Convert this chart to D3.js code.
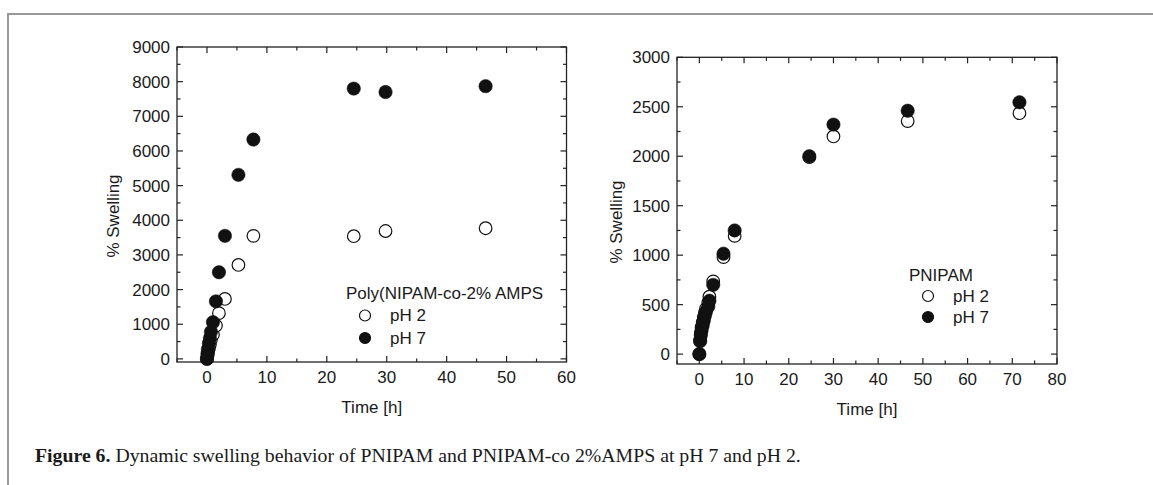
<!DOCTYPE html>
<html><head><meta charset="utf-8">
<script src="https://cdn.jsdelivr.net/npm/d3@7"></script>
<style>
body{margin:0;background:#fff;}
svg text{font-family:"Liberation Sans",Arial,sans-serif;fill:#1a1a1a;}
</style></head>
<body>
<svg id="c" width="1153" height="485"></svg>
<script>
// ---- Data ----
const timeA = [0, 0.08, 0.17, 0.33, 0.5, 0.67, 1, 1.5, 2, 3, 5.25, 7.75, 24.5, 29.8, 46.5];
const amps_pH2 = [0, 80, 170, 300, 420, 560, 700, 960, 1320, 1730, 2710, 3550, 3540, 3690, 3770];
const amps_pH7 = [0, 150, 280, 450, 600, 780, 1060, 1660, 2500, 3550, 5310, 6330, 7800, 7700, 7870];

const timeB = [0, 0.17, 0.33, 0.5, 0.75, 1.0, 1.25, 1.5, 2.0, 2.25, 3.1, 5.4, 7.9, 24.6, 30, 46.6, 71.6];
const pnipam_pH7 = [0, 130, 190, 240, 290, 340, 390, 430, 480, 540, 700, 1015, 1250, 2000, 2320, 2460, 2545];
const pnipam_pH2 = [0, 140, 210, 270, 320, 370, 420, 460, 520, 580, 735, 980, 1195, 1990, 2200, 2355, 2435];

const xTicksA = [0, 10, 20, 30, 40, 50, 60];
const yTicksA = [0, 1000, 2000, 3000, 4000, 5000, 6000, 7000, 8000, 9000];
const xTicksB = [0, 10, 20, 30, 40, 50, 60, 70, 80];
const yTicksB = [0, 500, 1000, 1500, 2000, 2500, 3000];

const legendA = {title: "Poly(NIPAM-co-2% AMPS", items: ["pH 2", "pH 7"]};
const legendB = {title: "PNIPAM", items: ["pH 2", "pH 7"]};
const yTitle = "% Swelling", xTitle = "Time [h]";
const captionBold = "Figure 6.";
const captionRest = " Dynamic swelling behavior of PNIPAM and PNIPAM-co 2%AMPS at pH 7 and pH 2.";

const svg = d3.select("#c");

// figure frame
svg.append("line").attr("x1",8).attr("x2",1153).attr("y1",14).attr("y2",14).attr("stroke","#999").attr("stroke-width",2);
svg.append("line").attr("x1",8).attr("x2",8).attr("y1",13).attr("y2",485).attr("stroke","#999").attr("stroke-width",2);

function panel(cfg){
  const g = svg.append("g");
  const x = d3.scaleLinear().domain(cfg.xDom).range([cfg.left, cfg.right]);
  const y = d3.scaleLinear().domain(cfg.yDom).range([cfg.bottom, cfg.top]);
  const ax = "#222";
  const xMinor = d3.range(cfg.xDom[0], cfg.xDom[1]+0.001, cfg.xMinor).filter(v=>!cfg.xTicks.includes(v));
  const yMinor = d3.range(0, cfg.yDom[1]+0.001, cfg.yMinor).filter(v=>!cfg.yTicks.includes(v));
  const maj=6, mn=3.5;
  const tk = g.append("g").attr("stroke",ax).attr("stroke-width",1.2);
  cfg.xTicks.forEach(v=>{
    tk.append("line").attr("x1",x(v)).attr("x2",x(v)).attr("y1",cfg.bottom).attr("y2",cfg.bottom-maj);
    tk.append("line").attr("x1",x(v)).attr("x2",x(v)).attr("y1",cfg.top).attr("y2",cfg.top+maj);
  });
  xMinor.forEach(v=>{
    tk.append("line").attr("x1",x(v)).attr("x2",x(v)).attr("y1",cfg.bottom).attr("y2",cfg.bottom-mn);
    tk.append("line").attr("x1",x(v)).attr("x2",x(v)).attr("y1",cfg.top).attr("y2",cfg.top+mn);
  });
  cfg.yTicks.forEach(v=>{
    tk.append("line").attr("y1",y(v)).attr("y2",y(v)).attr("x1",cfg.left).attr("x2",cfg.left+maj);
    tk.append("line").attr("y1",y(v)).attr("y2",y(v)).attr("x1",cfg.right).attr("x2",cfg.right-maj);
  });
  yMinor.forEach(v=>{
    tk.append("line").attr("y1",y(v)).attr("y2",y(v)).attr("x1",cfg.left).attr("x2",cfg.left+mn);
    tk.append("line").attr("y1",y(v)).attr("y2",y(v)).attr("x1",cfg.right).attr("x2",cfg.right-mn);
  });
  g.append("rect").attr("x",cfg.left).attr("y",cfg.top).attr("width",cfg.right-cfg.left).attr("height",cfg.bottom-cfg.top)
    .attr("fill","none").attr("stroke",ax).attr("stroke-width",1.3);
  cfg.xTicks.forEach(v=>{
    g.append("text").attr("x",x(v)).attr("y",cfg.bottom+21).attr("text-anchor","middle").attr("font-size",17).text(v);
  });
  cfg.yTicks.forEach(v=>{
    g.append("text").attr("x",cfg.left-7).attr("y",y(v)).attr("dy","0.35em").attr("text-anchor","end").attr("font-size",17).text(v);
  });
  g.append("text").attr("x",(cfg.left+cfg.right)/2).attr("y",cfg.bottom+51).attr("text-anchor","middle").attr("font-size",17).text(xTitle);
  g.append("text").attr("transform",`translate(${cfg.yTitleX},${cfg.yTitleY}) rotate(-90)`).attr("text-anchor","middle").attr("dy","0.35em").attr("font-size",17).text(yTitle);
  const r = 6.3;
  g.append("g").selectAll("circle").data(cfg.t.map((t,i)=>[t,cfg.open[i]])).join("circle")
    .attr("cx",d=>x(d[0])).attr("cy",d=>y(d[1])).attr("r",r).attr("fill","#fff").attr("stroke","#111").attr("stroke-width",1.2);
  g.append("g").selectAll("circle").data(cfg.t.map((t,i)=>[t,cfg.filled[i]])).join("circle")
    .attr("cx",d=>x(d[0])).attr("cy",d=>y(d[1])).attr("r",r+0.4).attr("fill","#111").attr("stroke","#111").attr("stroke-width",0.5);
  const L = cfg.legend;
  g.append("text").attr("x",L.x).attr("y",L.y).attr("dy","0.35em").attr("font-size",17).text(cfg.legendData.title);
  cfg.legendData.items.forEach((s,i)=>{
    const yy = L.y + L.gap*(i+1);
    g.append("circle").attr("cx",L.x+19).attr("cy",yy).attr("r",5.5)
      .attr("fill", i===0?"#fff":"#111").attr("stroke","#111").attr("stroke-width",1.2);
    g.append("text").attr("x",L.x+44).attr("y",yy).attr("dy","0.35em").attr("font-size",17).text(s);
  });
}

panel({xDom:[-5,60], yDom:[-90,9000], left:177, right:566.5, top:47, bottom:362,
  xTicks:xTicksA, yTicks:yTicksA, xMinor:5, yMinor:500,
  t:timeA, open:amps_pH2, filled:amps_pH7,
  yTitleX:113, yTitleY:216,
  legend:{x:346, y:293, gap:22.5}, legendData:legendA});

panel({xDom:[-5,80], yDom:[-100,3000], left:677, right:1057, top:57.3, bottom:364,
  xTicks:xTicksB, yTicks:yTicksB, xMinor:5, yMinor:250,
  t:timeB, open:pnipam_pH2, filled:pnipam_pH7,
  yTitleX:616, yTitleY:222,
  legend:{x:909, y:275, gap:21}, legendData:legendB});

// caption
const cap = svg.append("text").attr("x",35).attr("y",462).attr("font-size",19.8)
  .style("font-family","'Liberation Serif','Times New Roman',serif");
cap.append("tspan").attr("font-weight","bold").text(captionBold);
cap.append("tspan").text(captionRest);
</script>
</body></html>
